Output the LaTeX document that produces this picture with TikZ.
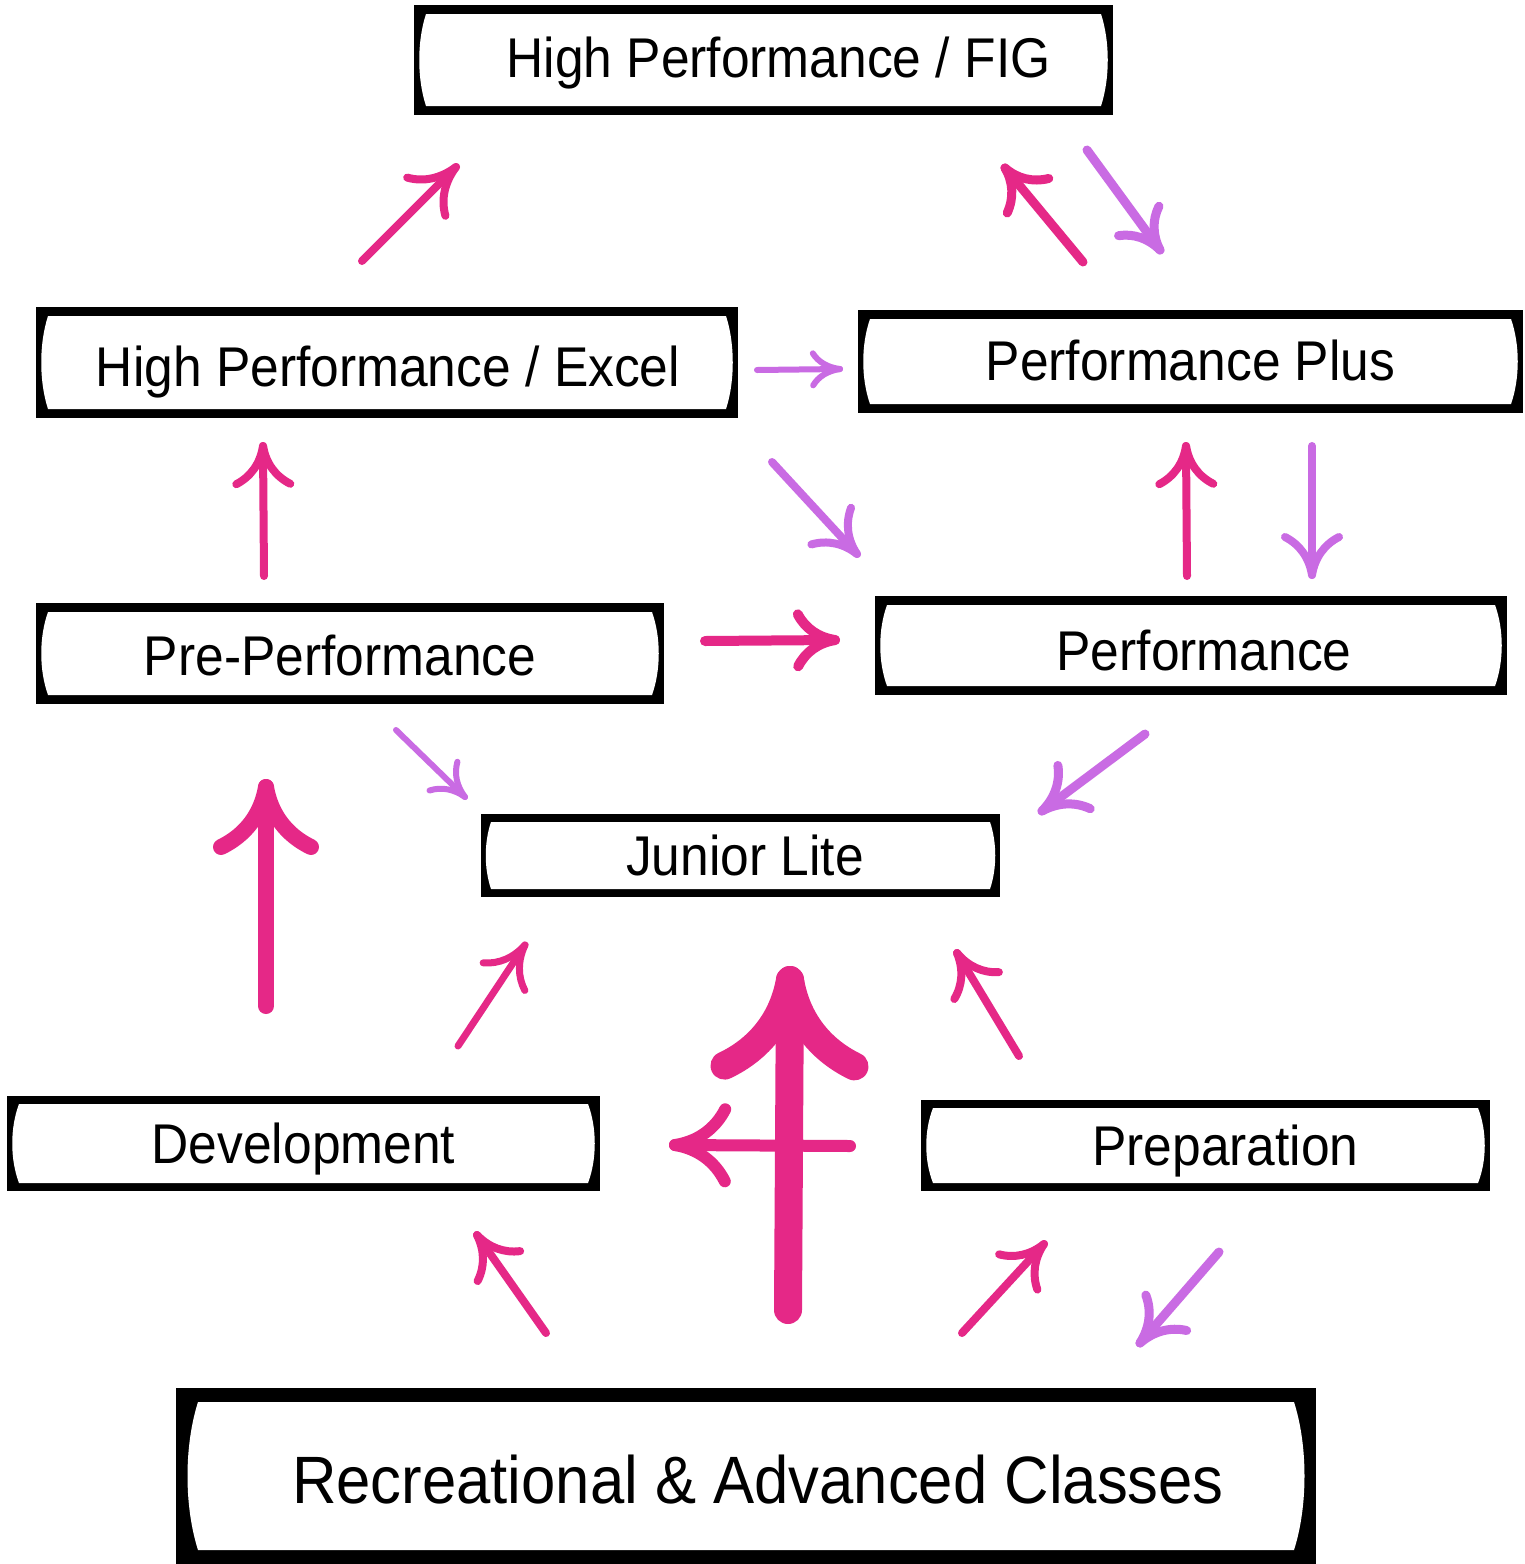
\documentclass[tikz,border=0pt]{standalone}
\usepackage{fontspec}
\setmainfont{Liberation Sans}[FakeStretch=0.92]
\usetikzlibrary{calc}
\definecolor{hpink}{HTML}{E52887}
\definecolor{hviolet}{HTML}{C96BE3}
% frame: x0 y0 x1 y1 band corner-inset middle-inset
\newcommand\gframe[7]{%
  \fill[black] (#1,#2) rectangle (#3,#4);
  \fill[white] ({#1+#6},{#2+#5}) -- ({#3-#6},{#2+#5})
    .. controls ({#3-#7},{#2+#5+0.25*(#4-#2)}) and ({#3-#7},{#4-#5-0.25*(#4-#2)}) .. ({#3-#6},{#4-#5})
    -- ({#1+#6},{#4-#5})
    .. controls ({#1+#7},{#4-#5-0.25*(#4-#2)}) and ({#1+#7},{#2+#5+0.25*(#4-#2)}) .. cycle;
}
% hand arrow: start, tip, colour, width, back length, lateral
\newcommand\harrow[6]{%
  \pgfmathanglebetweenpoints{\pgfpointanchor{#1}{center}}{\pgfpointanchor{#2}{center}}%
  \let\harang\pgfmathresult
  \draw[line width=#4, color=#3, line cap=round, line join=round] (#1) -- (#2);
  \begin{scope}[shift={(#2)}, rotate=\harang]
    \draw[line width=#4, color=#3, line cap=round, line join=round]
      (0,0) .. controls ({-0.45*#5},{0.1*#6}) and ({-0.8*#5},{0.45*#6}) .. ({-#5},{#6})
      (0,0) .. controls ({-0.45*#5},{-0.1*#6}) and ({-0.8*#5},{-0.45*#6}) .. ({-#5},{-#6});
  \end{scope}
}
\begin{document}
\begin{tikzpicture}[x=1pt,y=-1pt,
  lbl/.style={anchor=base, inner sep=0pt, font=\fontsize{56}{60}\selectfont},
  biglbl/.style={anchor=base, inner sep=0pt, font=\fontsize{67}{72}\selectfont}]
\useasboundingbox (0,0) rectangle (1525,1564);
\fill[white] (0,0) rectangle (1525,1564);

% frames
\gframe{414}{5}{1113}{115}{9}{12}{3}
\gframe{36}{307}{738}{418}{9}{12}{3}
\gframe{858}{310}{1523}{413}{9}{12}{3}
\gframe{36}{603}{664}{704}{9}{12}{3}
\gframe{875}{596}{1507}{695}{9}{12}{3}
\gframe{481}{814}{1000}{897}{8}{10}{3}
\gframe{7}{1096}{600}{1191}{8}{12}{3}
\gframe{921}{1100}{1490}{1191}{8}{12}{3}
\gframe{176}{1388}{1316}{1564}{14}{22}{8}

% labels
\node[lbl] (fig) at (778.5,77) {High Performance / FIG};
\node[lbl] (excel) at (388,386) {High Performance / Excel};
\node[lbl] (pplus) at (1190.5,380) {Performance Plus};
\node[lbl] (preperf) at (340,675) {Pre-Performance};
\node[lbl] (perf) at (1204,670) {Performance};
\node[lbl] (junior) at (745,875) {Junior Lite};
\node[lbl] (dev) at (303.5,1163) {Development};
\node[lbl] (prep) at (1225.5,1165) {Preparation};
\node[biglbl] (rec) at (758,1503) {Recreational \& Advanced Classes};

% arrow end points
\coordinate (a1s) at (362,261);   \coordinate (a1t) at (456,167);
\coordinate (a2s) at (1083,262);  \coordinate (a2t) at (1005,168);
\coordinate (a3s) at (1087,150);  \coordinate (a3t) at (1160,250);
\coordinate (a4s) at (757,370);   \coordinate (a4t) at (840,369);
\coordinate (a5s) at (264,576);   \coordinate (a5t) at (263,446);
\coordinate (a6s) at (772,462);   \coordinate (a6t) at (857,554);
\coordinate (a7s) at (1187,576);  \coordinate (a7t) at (1186,446);
\coordinate (a8s) at (1312,446);  \coordinate (a8t) at (1312,575);
\coordinate (a9s) at (705,641);   \coordinate (a9t) at (835,640);
\coordinate (a10s) at (396,730);  \coordinate (a10t) at (465,797);
\coordinate (a11s) at (1145,734); \coordinate (a11t) at (1042,811);
\coordinate (a12s) at (266,1006); \coordinate (a12t) at (266,787);
\coordinate (a13s) at (458,1046); \coordinate (a13t) at (525,945);
\coordinate (a14s) at (788,1310); \coordinate (a14t) at (790,980);
\coordinate (a15s) at (850,1146); \coordinate (a15t) at (675,1145);
\coordinate (a16s) at (1019,1056);\coordinate (a16t) at (957,953);
\coordinate (a17s) at (546,1333); \coordinate (a17t) at (477,1235);
\coordinate (a18s) at (962,1333); \coordinate (a18t) at (1044,1244);
\coordinate (a19s) at (1219,1252);\coordinate (a19t) at (1140,1343);

\harrow{a1s}{a1t}{hpink}{8}{42}{27}
\harrow{a2s}{a2t}{hpink}{9}{36}{27}
\harrow{a3s}{a3t}{hviolet}{9}{36}{25}
\harrow{a4s}{a4t}{hviolet}{6}{27}{16}
\harrow{a5s}{a5t}{hpink}{8}{38}{27}
\harrow{a6s}{a6t}{hviolet}{8}{38}{27}
\harrow{a7s}{a7t}{hpink}{8}{38}{27}
\harrow{a8s}{a8t}{hviolet}{8}{38}{27}
\harrow{a9s}{a9t}{hpink}{10}{37}{26}
\harrow{a10s}{a10t}{hviolet}{6}{30}{20}
\harrow{a11s}{a11t}{hviolet}{9}{40}{27}
\harrow{a12s}{a12t}{hpink}{16}{60}{45}
\harrow{a13s}{a13t}{hpink}{7}{38}{25}
\harrow{a15s}{a15t}{hpink}{12}{50}{36}
\harrow{a14s}{a14t}{hpink}{28}{86}{65}
\harrow{a16s}{a16t}{hpink}{8}{38}{26}
\harrow{a17s}{a17t}{hpink}{8}{38}{26}
\harrow{a18s}{a18t}{hpink}{8}{38}{26}
\harrow{a19s}{a19t}{hviolet}{9}{40}{27}
\end{tikzpicture}
\end{document}
